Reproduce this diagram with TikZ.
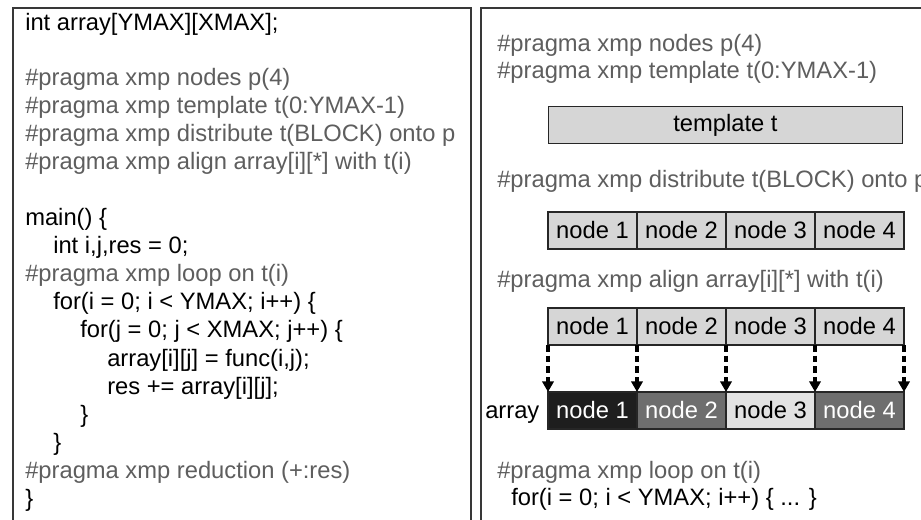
\documentclass[tikz,border=0pt]{standalone}
\usepackage{fontspec}
\setmainfont{Liberation Sans}
\usetikzlibrary{arrows.meta}
\definecolor{framegray}{HTML}{383838}
\definecolor{pragmagray}{HTML}{5E5E5E}
\definecolor{cellgray}{HTML}{D6D6D6}
\definecolor{darkcell}{HTML}{1E1E1E}
\definecolor{midcell}{HTML}{6E6E6E}
\definecolor{paler}{HTML}{E2E2E2}
\begin{document}
\begin{tikzpicture}[x=0.75pt,y=-0.75pt,
  font=\fontsize{17.8}{21}\selectfont,
  code/.style={anchor=base west, inner sep=0pt, text=black},
  pragma/.style={code, text=pragmagray},
  panel/.style={draw=framegray, line width=1.5pt},
  cell/.style={draw=black!85, line width=0.9pt, fill=cellgray, inner sep=0pt, outer sep=0pt,
    minimum width=66.75pt, minimum height=27.75pt, text=black},
  wide/.style={cell, minimum width=266pt},
  mapto/.style={line width=2.3pt, dash pattern=on 5pt off 3pt,
    -{Triangle[width=8.5pt,length=8pt]}}]
\useasboundingbox (0,0) rectangle (921,520);
\clip (0,0) rectangle (921,520);
\fill[white] (0,0) rectangle (921,520);

% two framed panels, open at the bottom and on the far right
\draw[panel] (12.5,8.5) rectangle (471,600);
\draw[panel] (481,8.5) rectangle (1000,600);

% ---- left panel: the program ----
\node[code]   (l1)  at (25,31)  {int array[YMAX][XMAX];};
\node[pragma] (l2)  at (25,86)  {\#pragma xmp nodes p(4)};
\node[pragma] (l3)  at (25,114) {\#pragma xmp template t(0:YMAX-1)};
\node[pragma] (l4)  at (25,142) {\#pragma xmp distribute t(BLOCK) onto p};
\node[pragma] (l5)  at (25,170) {\#pragma xmp align array[i][*] with t(i)};
\node[code]   (l6)  at (25,226) {main() \{};
\node[code]   (l7)  at (53,254) {int i,j,res = 0;};
\node[pragma] (l8)  at (25,282) {\#pragma xmp loop on t(i)};
\node[code]   (l9)  at (53,310) {for(i = 0; i < YMAX; i++) \{};
\node[code]   (l10) at (80,338) {for(j = 0; j < XMAX; j++) \{};
\node[code]   (l11) at (107,366) {array[i][j] = func(i,j);};
\node[code]   (l12) at (107,394) {res += array[i][j];};
\node[code]   (l13) at (80,422) {\}};
\node[code]   (l14) at (53,450) {\}};
\node[pragma] (l15) at (25,478) {\#pragma xmp reduction (+:res)};
\node[code]   (l16) at (25,506) {\}};

% ---- right panel: what the directives build ----
\node[pragma] (r1) at (497,52) {\#pragma xmp nodes p(4)};
\node[pragma] (r2) at (497,79) {\#pragma xmp template t(0:YMAX-1)};
\node[wide] (tmpl) at (725.5,125) {template t};

\node[pragma] (r3) at (497,188) {\#pragma xmp distribute t(BLOCK) onto p};
\node[cell] (p1) at (592.5,230.5) {node 1};
\node[cell, anchor=west] (p2) at (p1.east) {node 2};
\node[cell, anchor=west] (p3) at (p2.east) {node 3};
\node[cell, anchor=west] (p4) at (p3.east) {node 4};

\node[pragma] (r4) at (497,288) {\#pragma xmp align array[i][*] with t(i)};
\node[cell] (t1) at (592.5,326.5) {node 1};
\node[cell, anchor=west] (t2) at (t1.east) {node 2};
\node[cell, anchor=west] (t3) at (t2.east) {node 3};
\node[cell, anchor=west] (t4) at (t3.east) {node 4};

\node[cell, fill=darkcell, text=white] (a1) at (592.5,410.5) {node 1};
\node[cell, fill=midcell, text=white, anchor=west] (a2) at (a1.east) {node 2};
\node[cell, fill=paler, anchor=west] (a3) at (a2.east) {node 3};
\node[cell, fill=midcell, text=white, anchor=west] (a4) at (a3.east) {node 4};
\node[code] (arr) at (485,418) {array};

% each template block is aligned onto the matching stretch of the array
\draw[mapto] (t1.south west) -- (a1.north west);
\draw[mapto] (t2.south west) -- (a2.north west);
\draw[mapto] (t3.south west) -- (a3.north west);
\draw[mapto] (t4.south west) -- (a4.north west);
\draw[mapto] (t4.south east) -- (a4.north east);

\node[pragma] (r5) at (497,478) {\#pragma xmp loop on t(i)};
\node[code]   (r6) at (511,505) {for(i = 0; i < YMAX; i++) \{ ... \}};
\end{tikzpicture}
\end{document}
